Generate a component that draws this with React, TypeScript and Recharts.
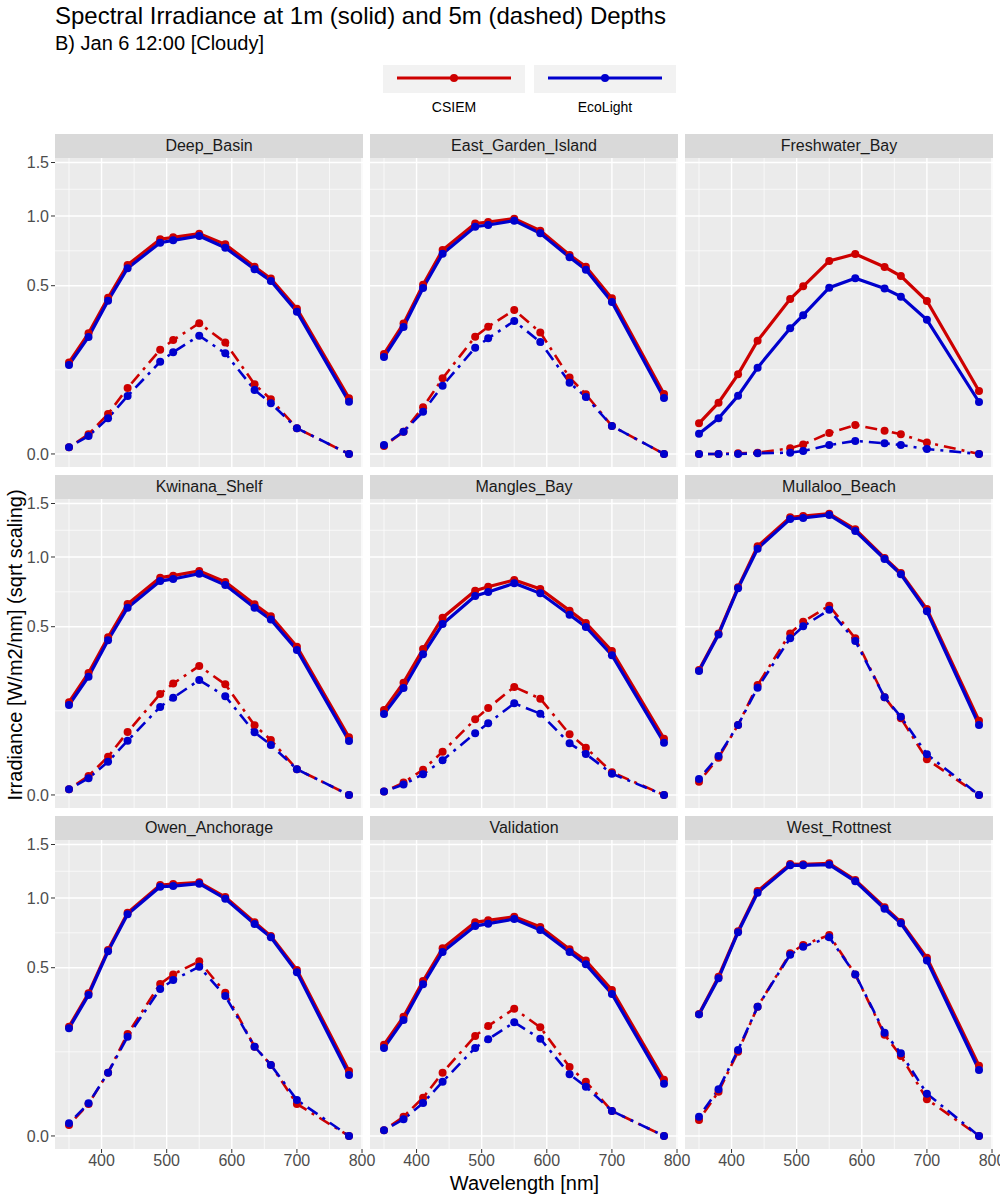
import { LineChart, Line, XAxis, YAxis, CartesianGrid } from 'recharts'

const wavelengths = [350, 380, 410, 440, 490, 510, 550, 590, 635, 660, 700, 780]

const deepBasin = {
  csiem1m: [0.148, 0.257, 0.431, 0.631, 0.814, 0.829, 0.857, 0.776, 0.619, 0.543, 0.373, 0.055],
  eco1m: [0.14, 0.242, 0.415, 0.609, 0.788, 0.806, 0.839, 0.751, 0.602, 0.528, 0.357, 0.048],
  csiem5m: [0.0008, 0.0068, 0.0283, 0.0769, 0.192, 0.229, 0.302, 0.219, 0.0858, 0.0528, 0.0117, 0],
  eco5m: [0.0008, 0.0057, 0.0225, 0.0594, 0.15, 0.183, 0.247, 0.179, 0.0723, 0.0454, 0.0117, 0]
}
const eastGardenIsland = {
  csiem1m: [0.1765, 0.3, 0.506, 0.735, 0.937, 0.95, 0.978, 0.88, 0.699, 0.619, 0.428, 0.0636],
  eco1m: [0.166, 0.285, 0.4865, 0.708, 0.912, 0.926, 0.961, 0.86, 0.683, 0.6, 0.408, 0.0554],
  csiem5m: [0.0011, 0.0088, 0.0385, 0.101, 0.243, 0.286, 0.366, 0.261, 0.103, 0.0629, 0.0138, 0],
  eco5m: [0.0014, 0.0088, 0.0316, 0.0824, 0.1995, 0.236, 0.312, 0.2215, 0.0898, 0.0574, 0.0138, 0]
}
const freshwaterBay = {
  csiem1m: [0.0166, 0.0465, 0.112, 0.2266, 0.424, 0.496, 0.658, 0.706, 0.617, 0.559, 0.413, 0.07],
  eco1m: [0.0073, 0.0225, 0.06, 0.1316, 0.279, 0.34, 0.488, 0.545, 0.483, 0.437, 0.318, 0.0477],
  csiem5m: [0, 0, 0.00001, 0.00003, 0.00057, 0.0016, 0.0078, 0.0148, 0.0096, 0.0068, 0.0023, 0],
  eco5m: [0, 0, 0, 0.00001, 0.00003, 0.00016, 0.0014, 0.003, 0.002, 0.0014, 0.00044, 0]
}
const kwinanaShelf = {
  csiem1m: [0.152, 0.263, 0.439, 0.644, 0.834, 0.849, 0.886, 0.801, 0.642, 0.564, 0.388, 0.0587],
  eco1m: [0.143, 0.247, 0.423, 0.619, 0.808, 0.824, 0.865, 0.778, 0.619, 0.543, 0.371, 0.0515],
  csiem5m: [0.0006, 0.0064, 0.0259, 0.07, 0.18, 0.219, 0.294, 0.216, 0.0858, 0.0534, 0.0117, 0],
  eco5m: [0.0006, 0.0049, 0.0196, 0.052, 0.137, 0.167, 0.233, 0.172, 0.0693, 0.0441, 0.0117, 0]
}
const manglesBay = {
  csiem1m: [0.1276, 0.2227, 0.376, 0.555, 0.737, 0.766, 0.816, 0.749, 0.6, 0.522, 0.366, 0.056],
  eco1m: [0.1158, 0.202, 0.3495, 0.516, 0.699, 0.7275, 0.791, 0.718, 0.574, 0.498, 0.3446, 0.0483],
  csiem5m: [0.0002, 0.0027, 0.0113, 0.0331, 0.101, 0.1336, 0.206, 0.1638, 0.065, 0.0395, 0.0091, 0],
  eco5m: [0.0002, 0.0019, 0.0076, 0.0212, 0.0672, 0.0907, 0.1484, 0.1168, 0.047, 0.0297, 0.008, 0]
}
const mullalooBeach = {
  csiem1m: [0.2758, 0.461, 0.761, 1.092, 1.361, 1.374, 1.397, 1.246, 0.992, 0.87, 0.611, 0.0975],
  eco1m: [0.2714, 0.454, 0.754, 1.071, 1.345, 1.355, 1.384, 1.23, 0.983, 0.86, 0.596, 0.0865],
  csiem5m: [0.0031, 0.0246, 0.0865, 0.2136, 0.461, 0.53, 0.633, 0.433, 0.1685, 0.1038, 0.0225, 0],
  eco5m: [0.0045, 0.0269, 0.0865, 0.2033, 0.433, 0.502, 0.606, 0.4187, 0.1685, 0.108, 0.0292, 0]
}
const owenAnchorage = {
  csiem1m: [0.211, 0.3594, 0.611, 0.88, 1.112, 1.121, 1.136, 1.008, 0.806, 0.706, 0.4865, 0.0746],
  eco1m: [0.2047, 0.351, 0.602, 0.8675, 1.0975, 1.103, 1.124, 0.994, 0.793, 0.697, 0.473, 0.0657],
  csiem5m: [0.0021, 0.0181, 0.0708, 0.1837, 0.408, 0.461, 0.539, 0.3625, 0.1407, 0.089, 0.0181, 0],
  eco5m: [0.0028, 0.0188, 0.0708, 0.174, 0.3815, 0.429, 0.506, 0.346, 0.1407, 0.089, 0.0229, 0]
}
const validation = {
  csiem1m: [0.147, 0.251, 0.424, 0.622, 0.806, 0.821, 0.849, 0.771, 0.615, 0.543, 0.376, 0.056],
  eco1m: [0.137, 0.2375, 0.406, 0.598, 0.778, 0.796, 0.831, 0.749, 0.598, 0.52, 0.356, 0.0483],
  csiem5m: [0.0006, 0.0066, 0.0259, 0.0708, 0.1765, 0.2136, 0.286, 0.2085, 0.084, 0.052, 0.011, 0],
  eco5m: [0.0006, 0.0049, 0.0192, 0.052, 0.137, 0.165, 0.228, 0.167, 0.0672, 0.0429, 0.011, 0]
}
const westRottnest = {
  csiem1m: [0.263, 0.448, 0.74, 1.059, 1.306, 1.303, 1.3126, 1.157, 0.9235, 0.808, 0.561, 0.0873],
  eco1m: [0.261, 0.439, 0.733, 1.045, 1.293, 1.293, 1.2996, 1.145, 0.912, 0.7985, 0.543, 0.0769],
  csiem5m: [0.0045, 0.0347, 0.1254, 0.295, 0.589, 0.644, 0.713, 0.461, 0.1813, 0.113, 0.0238, 0],
  eco5m: [0.0066, 0.0385, 0.1306, 0.295, 0.5805, 0.632, 0.697, 0.461, 0.1884, 0.1206, 0.0316, 0]
}

const sites = [
  { name: 'Deep_Basin', data: deepBasin },
  { name: 'East_Garden_Island', data: eastGardenIsland },
  { name: 'Freshwater_Bay', data: freshwaterBay },
  { name: 'Kwinana_Shelf', data: kwinanaShelf },
  { name: 'Mangles_Bay', data: manglesBay },
  { name: 'Mullaloo_Beach', data: mullalooBeach },
  { name: 'Owen_Anchorage', data: owenAnchorage },
  { name: 'Validation', data: validation },
  { name: 'West_Rottnest', data: westRottnest }
]

const xTicks = [400, 500, 600, 700, 800]
const xMinor = [350, 450, 550, 650, 750]
const yTicks = [0, 0.5, 1, 1.5]
const yMinor = [0.125, 0.7286, 1.2374]

const RED = '#CD0000'
const BLUE = '#0000CD'
const FONT = '"Liberation Sans", Arial, Helvetica, sans-serif'

// facet geometry
const COL_X = [55, 370, 685]
const ROW_Y = [134, 475, 816]
const STRIP_H = 24
const PANEL_W = 308
const PANEL_H = 309
const Y_AXIS_W = 45
const X_AXIS_H = 30
// extra room so edge tick labels (1.5, 800) are not clipped
const PAD_T = 12
const PAD_R = 16

// sqrt-scaled y range incl. ggplot style expansion
const Y_DOMAIN = [-0.003, 1.5468]
const X_DOMAIN = [328.5, 801.5]

function Facet({ site, col, row }: { site: (typeof sites)[number]; col: number; row: number }) {
  const isLeft = col === 0
  const isBottom = row === 2
  const yW = isLeft ? Y_AXIS_W : 0
  const xH = isBottom ? X_AXIS_H : 0
  const rows = wavelengths.map((wl, i) => ({
    wl,
    c1: site.data.csiem1m[i],
    c5: site.data.csiem5m[i],
    e1: site.data.eco1m[i],
    e5: site.data.eco5m[i]
  }))
  const tickStyle = { fill: '#4D4D4D', fontSize: 16, fontFamily: FONT }
  const solid = 3.2
  const dashed = 2.6
  const dash = '3 6 12 6'

  return (
    <>
      <div
        style={{
          position: 'absolute',
          left: COL_X[col],
          top: ROW_Y[row],
          width: PANEL_W,
          height: STRIP_H,
          background: '#D9D9D9',
          color: '#1A1A1A',
          fontFamily: FONT,
          fontSize: 16,
          lineHeight: `${STRIP_H}px`,
          textAlign: 'center'
        }}
      >
        {site.name}
      </div>
      <div style={{ position: 'absolute', left: COL_X[col] - yW, top: ROW_Y[row] + STRIP_H - PAD_T }}>
        <LineChart
          width={PANEL_W + yW + PAD_R}
          height={PANEL_H + xH + PAD_T}
          data={rows}
          margin={{ top: PAD_T, right: PAD_R, bottom: 0, left: 0 }}
        >
          <CartesianGrid
            fill="#EBEBEB"
            stroke="#FFFFFF"
            strokeWidth={0.7}
            horizontalValues={yMinor}
            verticalValues={xMinor}
          />
          <CartesianGrid
            stroke="#FFFFFF"
            strokeWidth={1.4}
            horizontalValues={yTicks}
            verticalValues={xTicks}
          />
          <XAxis
            type="number"
            dataKey="wl"
            domain={X_DOMAIN}
            ticks={xTicks}
            allowDataOverflow
            hide={!isBottom}
            height={xH}
            axisLine={false}
            tickSize={4}
            tickLine={{ stroke: '#333333' }}
            tick={tickStyle}
            interval={0}
          />
          <YAxis
            type="number"
            scale="sqrt"
            domain={Y_DOMAIN}
            ticks={yTicks}
            allowDataOverflow
            hide={!isLeft}
            width={yW}
            axisLine={false}
            tickSize={4}
            tickLine={{ stroke: '#333333' }}
            tick={tickStyle}
            tickFormatter={(v: number) => v.toFixed(1)}
            interval={0}
          />
          <Line dataKey="c1" stroke={RED} strokeWidth={solid} dot={{ r: 4, fill: RED, stroke: RED, strokeWidth: 0 }} isAnimationActive={false} />
          <Line dataKey="c5" stroke={RED} strokeWidth={dashed} strokeDasharray={dash} dot={{ r: 4, fill: RED, stroke: RED, strokeWidth: 0 }} isAnimationActive={false} />
          <Line dataKey="e1" stroke={BLUE} strokeWidth={solid} dot={{ r: 4, fill: BLUE, stroke: BLUE, strokeWidth: 0 }} isAnimationActive={false} />
          <Line dataKey="e5" stroke={BLUE} strokeWidth={dashed} strokeDasharray={dash} dot={{ r: 4, fill: BLUE, stroke: BLUE, strokeWidth: 0 }} isAnimationActive={false} />
        </LineChart>
      </div>
    </>
  )
}

function LegendKey({ x, color, label }: { x: number; color: string; label: string }) {
  return (
    <g>
      <rect x={x} y={65} width={142} height={28} fill="#F2F2F2" />
      <line x1={x + 14} x2={x + 128} y1={78} y2={78} stroke={color} strokeWidth={3.2} />
      <circle cx={x + 71} cy={78} r={4} fill={color} />
      <text x={x + 71} y={112} textAnchor="middle" fontSize={14} fill="#000000">
        {label}
      </text>
    </g>
  )
}

export default function App() {
  return (
    <div
      style={{
        position: 'absolute',
        left: 0,
        top: 0,
        width: 1000,
        height: 1200,
        background: '#FFFFFF',
        fontFamily: FONT
      }}
    >
      <svg width={1000} height={1200} style={{ position: 'absolute', left: 0, top: 0 }} fontFamily={FONT}>
        <text x={55} y={24} fontSize={24} fill="#000000">
          Spectral Irradiance at 1m (solid) and 5m (dashed) Depths
        </text>
        <text x={55} y={50} fontSize={20} fill="#000000">
          B) Jan 6 12:00 [Cloudy]
        </text>
        <LegendKey x={383} color={RED} label="CSIEM" />
        <LegendKey x={534} color={BLUE} label="EcoLight" />
        <text x={524.5} y={1190} fontSize={20} textAnchor="middle" fill="#000000">
          Wavelength [nm]
        </text>
        <text
          x={0}
          y={0}
          fontSize={20}
          textAnchor="middle"
          fill="#000000"
          transform="translate(22 645) rotate(-90)"
        >
          Irradiance [W/m2/nm] (sqrt scaling)
        </text>
      </svg>
      {sites.map((site, i) => (
        <Facet key={site.name} site={site} col={i % 3} row={Math.floor(i / 3)} />
      ))}
    </div>
  )
}
